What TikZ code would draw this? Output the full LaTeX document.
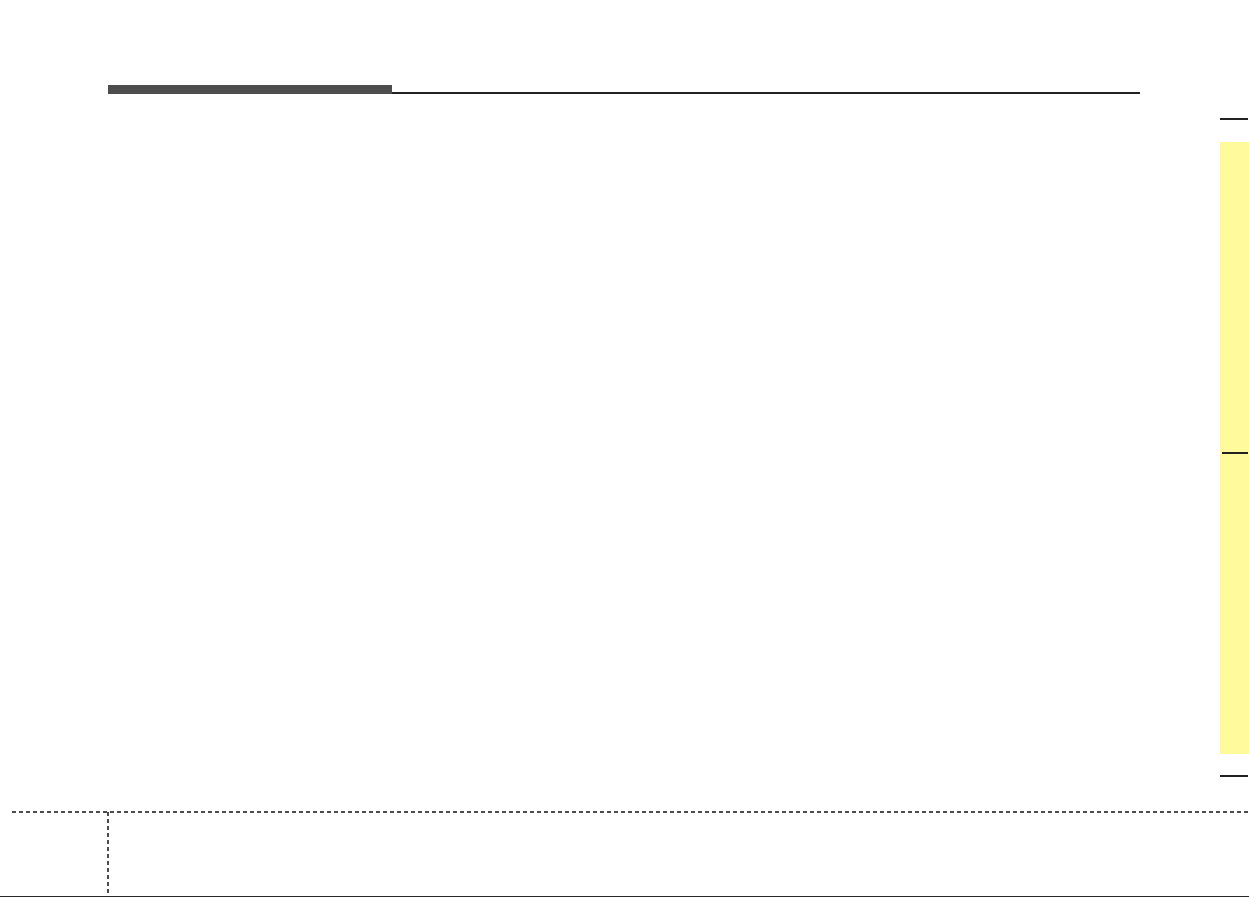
\documentclass[tikz,border=0pt]{standalone}
\usetikzlibrary{calc}
\definecolor{bargray}{HTML}{4D4D4D}
\definecolor{tabyellow}{HTML}{FFFA9C}
\definecolor{rulecol}{HTML}{222222}
\begin{document}
\begin{tikzpicture}[x=1pt,y=-1pt,
  dashrule/.style={draw=bargray,line width=2pt,dash pattern=on 4pt off 3pt},
  thinrule/.style={draw=rulecol,line width=1.2pt},
  tickrule/.style={draw=rulecol,line width=1.6pt}]
\useasboundingbox (0,0) rectangle (1249,897);
\fill[white] (0,0) rectangle (1249,897);
% header bar and rule
\fill[bargray] (108,85) rectangle (392,94);
\coordinate (rs) at (392,93);
\coordinate (re) at (1140,93);
\draw[thinrule] (rs) -- (re);
% right tab
\fill[tabyellow] (1220,142) rectangle (1249,754);
\coordinate (t1a) at (1220,119); \coordinate (t1b) at (1248,119);
\coordinate (t2a) at (1222,453); \coordinate (t2b) at (1248,453);
\coordinate (t3a) at (1220,776); \coordinate (t3b) at (1248,776);
\draw[thinrule] (t1a) -- (t1b);
\draw[tickrule] (t2a) -- (t2b);
\draw[thinrule] (t3a) -- (t3b);
% bottom dashed rules
\coordinate (da) at (12,812); \coordinate (db) at (1249,812);
\coordinate (va) at (108,812); \coordinate (vb) at (108,893);
\draw[dashrule] (da) -- (db);
\draw[dashrule] (va) -- (vb);
% bottom edge line
\coordinate (ba) at (0,896.5); \coordinate (bb) at (1249,896.5);
\draw[draw=black!85,line width=1pt] (ba) -- (bb);
\end{tikzpicture}
\end{document}
